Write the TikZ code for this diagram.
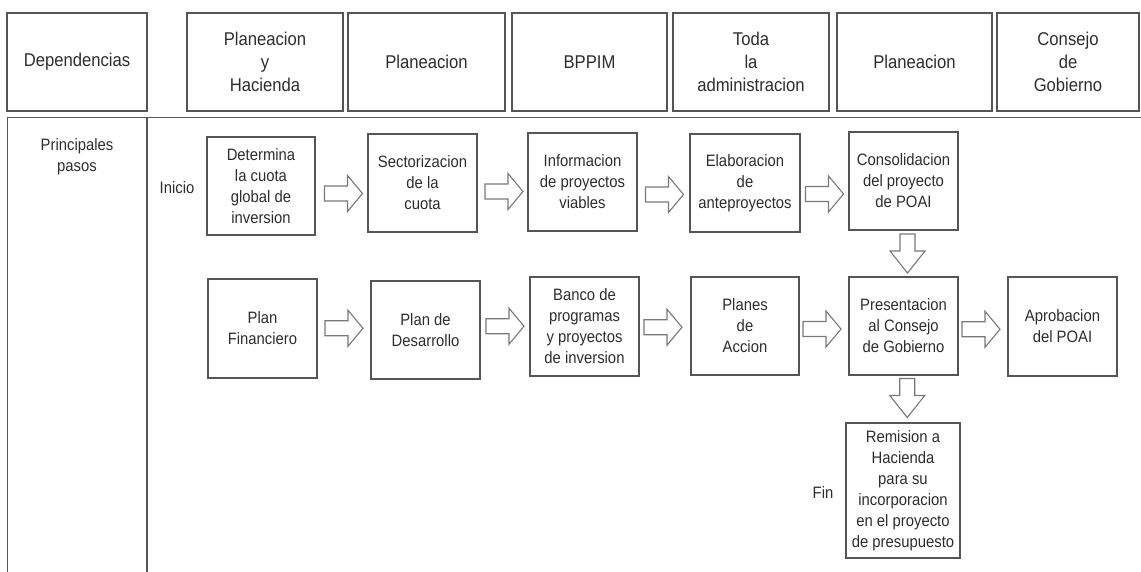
\documentclass[tikz,border=0pt]{standalone}
\usepackage{fontspec}
\setmainfont{Liberation Sans}[FakeStretch=0.9]
\usetikzlibrary{calc}
\definecolor{linec}{RGB}{85,85,85}
\definecolor{txtc}{RGB}{45,45,45}
\definecolor{arrc}{RGB}{120,120,120}
\tikzset{
 hbox/.style={draw=linec, line width=1.5pt, minimum height=98pt, inner sep=0pt, align=center, text=txtc, font=\fontsize{18.5}{23.3}\selectfont},
 pbox/.style={draw=linec, line width=1.2pt, inner sep=0pt, align=center, text=txtc, font=\fontsize{16.5}{21}\selectfont},
 lbl/.style={text=txtc, inner sep=0pt, font=\fontsize{16.5}{21}\selectfont, align=center},
 barrow/.style={draw=arrc, line width=1.1pt, line join=miter},
 gridline/.style={draw=linec, line width=1.5pt}
}
\newcommand\harrow[1]{\draw[barrow] (#1) ++(-19,-7.5) -- ++(23,0) -- ++(0,-10.5) -- ++(15,18) -- ++(-15,18) -- ++(0,-10.5) -- ++(-23,0) -- cycle;}
\newcommand\varrow[1]{\draw[barrow] (#1) ++(-7.5,-19.5) -- ++(0,17) -- ++(-10,0) -- ++(17.5,22) -- ++(17.5,-22) -- ++(-10,0) -- ++(0,-17) -- cycle;}
\begin{document}
\begin{tikzpicture}[x=1pt,y=-1pt]
\useasboundingbox (0,0) rectangle (1141,572);
% header
\node[hbox, minimum width=140pt] (hdep) at (77,62) {Dependencias};
\node[hbox, minimum width=156pt] (h1) at (265,62) {Planeacion\\y\\Hacienda};
\node[hbox, minimum width=157pt] (h2) at (426.5,62) {Planeacion};
\node[hbox, minimum width=155pt] (h3) at (589.5,62) {BPPIM};
\node[hbox, minimum width=156pt] (h4) at (751,62) {Toda\\la\\administracion};
\node[hbox, minimum width=155pt] (h5) at (914.5,62) {Planeacion};
\node[hbox, minimum width=142pt] (h6) at (1068,62) {Consejo\\de\\Gobierno};
% table lines
\coordinate (tl) at (7.5,117.5);
\coordinate (tr) at (1141,117.5);
\coordinate (bl) at (7.5,572);
\coordinate (ct) at (147,117.5);
\coordinate (cb) at (147,572);
\draw[gridline] (tr) -- (tl) -- (bl);
\draw[gridline] (ct) -- (cb);
\node[lbl] (pp) at (77,157) {Principales\\pasos};
% row 1
\node[lbl] (inicio) at (177,188) {Inicio};
\node[pbox, minimum width=108pt, minimum height=98pt] (b1) at (261,186) {Determina\\la cuota\\global de\\inversion};
\node[pbox, minimum width=109pt, minimum height=98pt] (b2) at (422.5,183) {Sectorizacion\\de la\\cuota};
\node[pbox, minimum width=109pt, minimum height=98pt] (b3) at (582.5,182) {Informacion\\de proyectos\\viables};
\node[pbox, minimum width=110pt, minimum height=98pt] (b4) at (745,183) {Elaboracion\\de\\anteproyectos};
\node[pbox, minimum width=109pt, minimum height=98pt] (b5) at (903.5,181) {Consolidacion\\del proyecto\\de POAI};
% row 2
\node[pbox, minimum width=109pt, minimum height=99pt] (c1) at (262.5,328.5) {Plan\\Financiero};
\node[pbox, minimum width=109pt, minimum height=98pt] (c2) at (425.5,330) {Plan de\\Desarrollo};
\node[pbox, minimum width=109pt, minimum height=99pt] (c3) at (584.5,326.5) {Banco de\\programas\\y proyectos\\de inversion};
\node[pbox, minimum width=108pt, minimum height=98pt] (c4) at (745,326) {Planes\\de\\Accion};
\node[pbox, minimum width=109pt, minimum height=98pt] (c5) at (903.5,326) {Presentacion\\al Consejo\\de Gobierno};
\node[pbox, minimum width=109pt, minimum height=99pt] (c6) at (1062.5,326.5) {Aprobacion\\del POAI};
\node[pbox, minimum width=114pt, minimum height=135pt] (d) at (903,490.5) {Remision a\\Hacienda\\para su\\incorporacion\\en el proyecto\\de presupuesto};
\node[lbl] (fin) at (823,493) {Fin};
% arrows row 1
\harrow{$(b1.east)!0.5!(b2.west)+(2,9)$}
\harrow{$(b2.east)!0.5!(b3.west)+(1.5,9)$}
\harrow{$(b3.east)!0.5!(b4.west)+(1,12)$}
\harrow{$(b4.east)!0.5!(b5.west)+(0,12)$}
% arrows row 2
\harrow{$(c1.east)!0.5!(c2.west)+(0,-1)$}
\harrow{$(c2.east)!0.5!(c3.west)+(0,-2)$}
\harrow{$(c3.east)!0.5!(c4.west)+(-2,1)$}
\harrow{$(c4.east)!0.5!(c5.west)+(-2,3)$}
\harrow{$(c5.east)!0.5!(c6.west)+(-2,3)$}
% down arrows
\varrow{$(b5.south)!0.5!(c5.north)+(4,0)$}
\varrow{$(c5.south)!0.5!(d.north)+(4,-1)$}
\end{tikzpicture}
\end{document}
